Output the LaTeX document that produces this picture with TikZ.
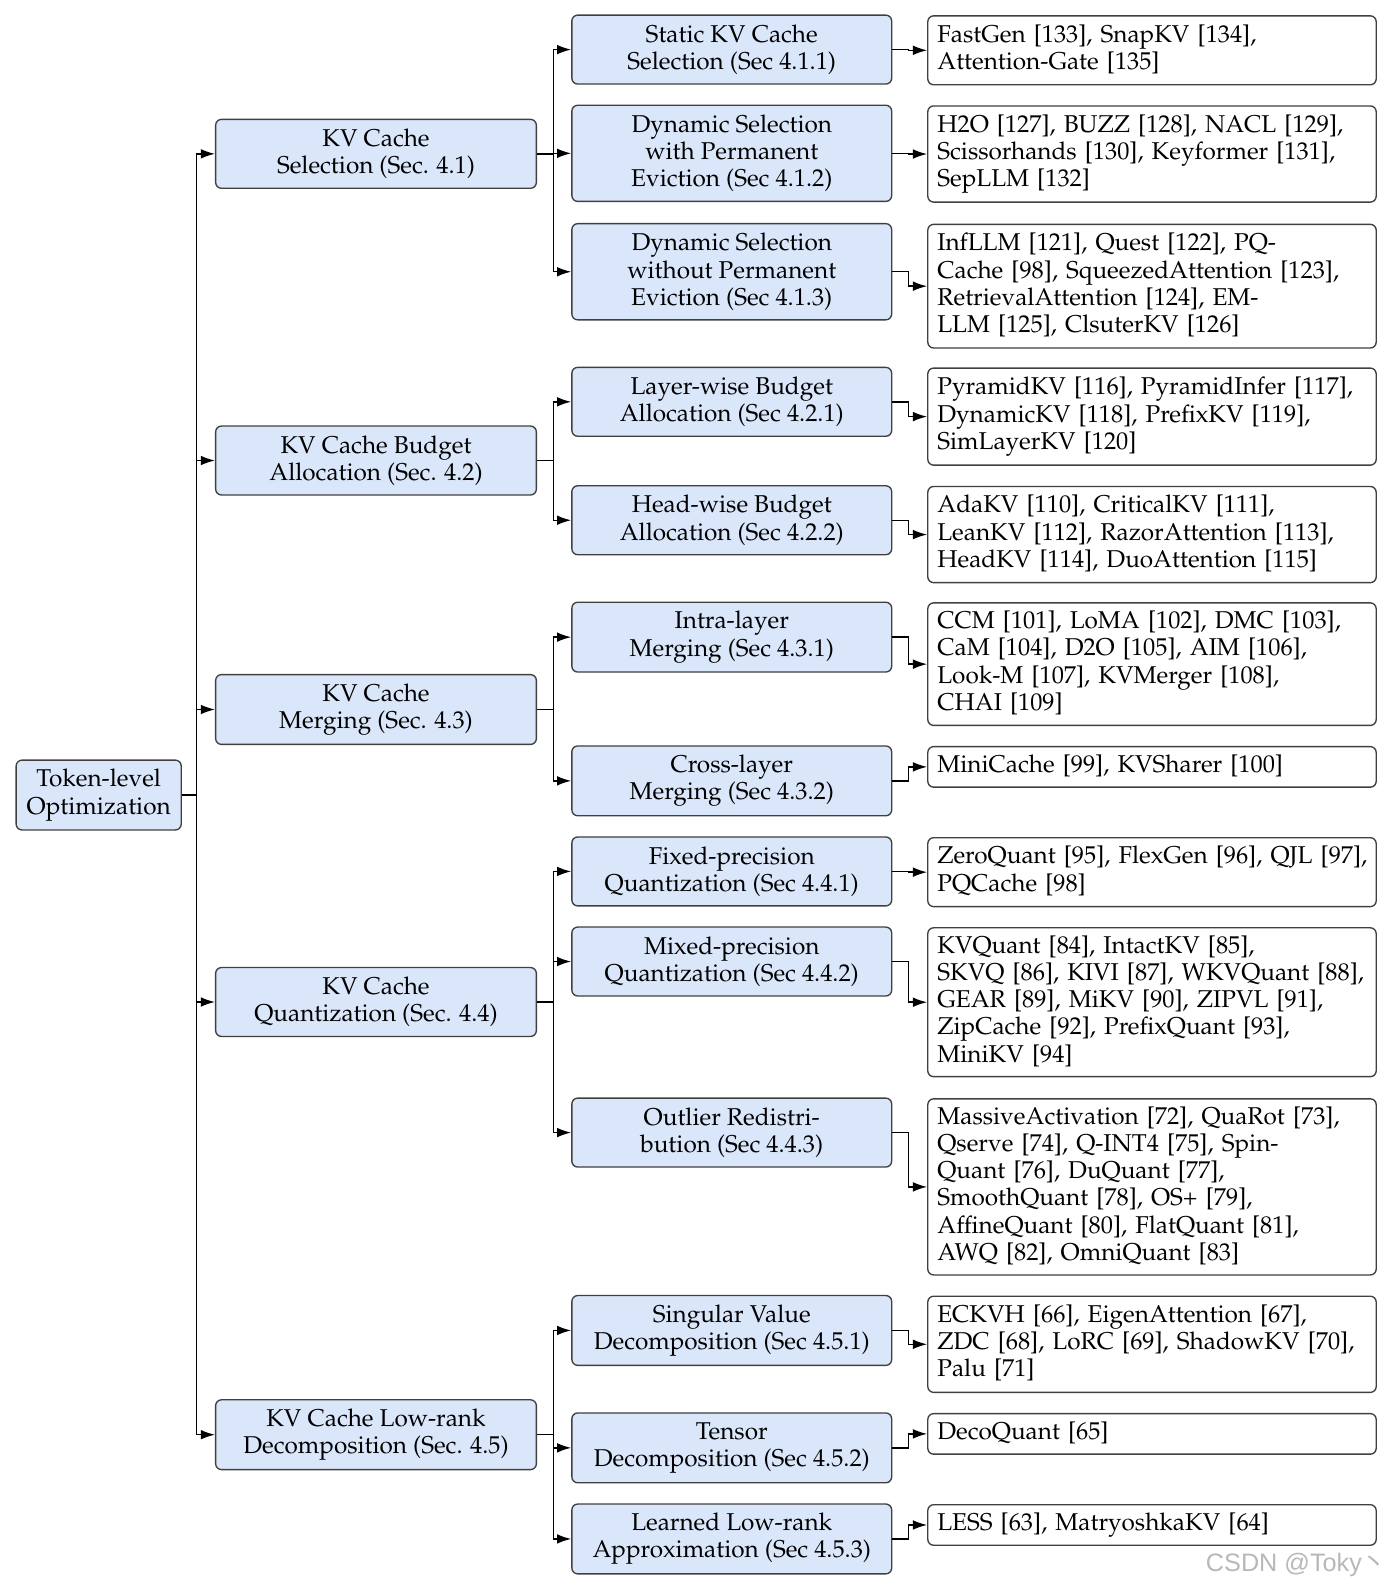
\documentclass[tikz,border=0pt]{standalone}
\usepackage[T1]{fontenc}
\usepackage{mathpazo}
\usepackage{fontspec}
\usepackage{tikz}
\usetikzlibrary{arrows,arrows.meta,positioning}
\newfontfamily\wmfont{Liberation Sans}
\newfontfamily\cjk{Noto Sans CJK SC}
\definecolor{kvblue}{RGB}{218,230,250}

\begin{document}
\begin{tikzpicture}[x=0.4494pt,y=-0.4494pt,
  font=\fontencoding{T1}\fontfamily{ppl}\fontsize{10.8}{12.1}\selectfont,
  >={Latex[length=6.3pt,width=4.3pt]},
  tokbox/.style={rectangle,rounded corners=2.6pt,draw=black!75,fill=kvblue,line width=0.6pt,align=center,inner sep=2pt},
  secbox/.style={tokbox,minimum width=142.4pt,minimum height=30.6pt},
  subbox/.style={tokbox,minimum width=142pt,minimum height=30.6pt},
  refbox/.style={rectangle,rounded corners=2.6pt,draw=black!75,fill=white,line width=0.6pt,align=left,anchor=north west,text width=190.6pt,inner xsep=4.25pt,inner ysep=2pt},
  link/.style={->,line width=0.65pt}]
\useasboundingbox (0,0) rectangle (1369.4,1567);

% root
\node[tokbox,minimum width=73.3pt,minimum height=31pt] (tl) at (97.5,785.5){Token-level\\Optimization};
\coordinate (rj) at (194,785.5);

% sections
\node[secbox] (sel) at (371.5,152){KV Cache\\Selection (Sec. 4.1)};
\node[secbox] (bud) at (371.5,455){KV Cache Budget\\Allocation (Sec. 4.2)};
\node[secbox,minimum height=31pt] (mer) at (371.5,701){KV Cache\\Merging (Sec. 4.3)};
\node[secbox] (qua) at (371.5,990){KV Cache\\Quantization (Sec. 4.4)};
\node[secbox,minimum height=31pt] (low) at (371.5,1417.5){KV Cache Low-rank\\Decomposition (Sec. 4.5)};
    \draw[link] (tl.east) -- (rj) |- (sel.west);
    \draw[link] (tl.east) -- (rj) |- (bud.west);
    \draw[link] (tl.east) -- (rj) |- (mer.west);
    \draw[link] (tl.east) -- (rj) |- (qua.west);
    \draw[link] (tl.east) -- (rj) |- (low.west);

% subsections
\node[subbox] (s1) at (723,49){Static KV Cache\\Selection (Sec 4.1.1)};
\node[subbox,minimum height=42.7pt] (s2) at (723,151.5){Dynamic Selection\\with Permanent\\Eviction (Sec 4.1.2)};
\node[subbox,minimum height=42.7pt] (s3) at (723,268.5){Dynamic Selection\\without Permanent\\Eviction (Sec 4.1.3)};
    \draw[link] (sel.east) -- ++(16,0) |- (s1.west);
    \draw[link] (sel.east) -- ++(16,0) |- (s2.west);
    \draw[link] (sel.east) -- ++(16,0) |- (s3.west);
\node[subbox] (b1) at (723,397){Layer-wise Budget\\Allocation (Sec 4.2.1)};
\node[subbox] (b2) at (723,514){Head-wise Budget\\Allocation (Sec 4.2.2)};
    \draw[link] (bud.east) -- ++(16,0) |- (b1.west);
    \draw[link] (bud.east) -- ++(16,0) |- (b2.west);
\node[subbox,minimum height=31pt] (m1) at (723,629.5){Intra-layer\\Merging (Sec 4.3.1)};
\node[subbox,minimum height=31pt] (m2) at (723,771.5){Cross-layer\\Merging (Sec 4.3.2)};
    \draw[link] (mer.east) -- ++(16,0) |- (m1.west);
    \draw[link] (mer.east) -- ++(16,0) |- (m2.west);
\node[subbox] (q1) at (723,861){Fixed-precision\\Quantization (Sec 4.4.1)};
\node[subbox] (q2) at (723,950){Mixed-precision\\Quantization (Sec 4.4.2)};
\node[subbox] (q3) at (723,1119){Outlier Redistri-\\bution (Sec 4.4.3)};
    \draw[link] (qua.east) -- ++(16,0) |- (q1.west);
    \draw[link] (qua.east) -- ++(16,0) |- (q2.west);
    \draw[link] (qua.east) -- ++(16,0) |- (q3.west);
\node[subbox,minimum height=31pt] (d1) at (723,1314.5){Singular Value\\Decomposition (Sec 4.5.1)};
\node[subbox,minimum height=31pt] (d2) at (723,1430.5){Tensor\\Decomposition (Sec 4.5.2)};
\node[subbox,minimum height=31pt] (d3) at (723,1520.5){Learned Low-rank\\Approximation (Sec 4.5.3)};
    \draw[link] (low.east) -- ++(16,0) |- (d1.west);
    \draw[link] (low.east) -- ++(16,0) |- (d2.west);
    \draw[link] (low.east) -- ++(16,0) |- (d3.west);

% works
\node[refbox,minimum height=30.6pt] (f1) at (916,15){\begin{tabular}{@{}l@{}}FastGen [133], SnapKV [134],\\Attention-Gate [135]\end{tabular}};
\node[refbox,minimum height=42.7pt] (f2) at (916,104){\begin{tabular}{@{}l@{}}H2O [127], BUZZ [128], NACL [129],\\Scissorhands [130], Keyformer [131],\\SepLLM [132]\end{tabular}};
\node[refbox,minimum height=54.9pt] (f3) at (916,221){\begin{tabular}{@{}l@{}}InfLLM [121], Quest [122], PQ-\\Cache [98], SqueezedAttention [123],\\RetrievalAttention [124], EM-\\LLM [125], ClsuterKV [126]\end{tabular}};
\node[refbox,minimum height=43.1pt] (f4) at (916,363){\begin{tabular}{@{}l@{}}PyramidKV [116], PyramidInfer [117],\\DynamicKV [118], PrefixKV [119],\\SimLayerKV [120]\end{tabular}};
\node[refbox,minimum height=42.7pt] (f5) at (916,480){\begin{tabular}{@{}l@{}}AdaKV [110], CriticalKV [111],\\LeanKV [112], RazorAttention [113],\\HeadKV [114], DuoAttention [115]\end{tabular}};
\node[refbox,minimum height=54.4pt] (f6) at (916,595){\begin{tabular}{@{}l@{}}CCM [101], LoMA [102], DMC [103],\\CaM [104], D2O [105], AIM [106],\\Look-M [107], KVMerger [108],\\CHAI [109]\end{tabular}};
\node[refbox,minimum height=18pt] (f7) at (916,737){\begin{tabular}{@{}l@{}}MiniCache [99], KVSharer [100]\end{tabular}};
\node[refbox,minimum height=30.6pt] (f8) at (916,827){\begin{tabular}{@{}l@{}}ZeroQuant [95], FlexGen [96], QJL [97],\\PQCache [98]\end{tabular}};
\node[refbox,minimum height=66.1pt] (f9) at (916,916){\begin{tabular}{@{}l@{}}KVQuant [84], IntactKV [85],\\SKVQ [86], KIVI [87], WKVQuant [88],\\GEAR [89], MiKV [90], ZIPVL [91],\\ZipCache [92], PrefixQuant [93],\\MiniKV [94]\end{tabular}};
\node[refbox,minimum height=78.2pt] (f10) at (916,1085){\begin{tabular}{@{}l@{}}MassiveActivation [72], QuaRot [73],\\Qserve [74], Q-INT4 [75], Spin-\\Quant [76], DuQuant [77],\\SmoothQuant [78], OS+ [79],\\AffineQuant [80], FlatQuant [81],\\AWQ [82], OmniQuant [83]\end{tabular}};
\node[refbox,minimum height=42.7pt] (f11) at (916,1280){\begin{tabular}{@{}l@{}}ECKVH [66], EigenAttention [67],\\ZDC [68], LoRC [69], ShadowKV [70],\\Palu [71]\end{tabular}};
\node[refbox,minimum height=18pt] (f12) at (916,1396){\begin{tabular}{@{}l@{}}DecoQuant [65]\end{tabular}};
\node[refbox,minimum height=18pt] (f13) at (916,1486){\begin{tabular}{@{}l@{}}LESS [63], MatryoshkaKV [64]\end{tabular}};
    \draw[link] (s1.east) -- ++(16,0) |- (f1.west);
    \draw[link] (s2.east) -- ++(16,0) |- (f2.west);
    \draw[link] (s3.east) -- ++(16,0) |- (f3.west);
    \draw[link] (b1.east) -- ++(16,0) |- (f4.west);
    \draw[link] (b2.east) -- ++(16,0) |- (f5.west);
    \draw[link] (m1.east) -- ++(16,0) |- (f6.west);
    \draw[link] (m2.east) -- ++(16,0) |- (f7.west);
    \draw[link] (q1.east) -- ++(16,0) |- (f8.west);
    \draw[link] (q2.east) -- ++(16,0) |- (f9.west);
    \draw[link] (q3.east) -- ++(16,0) |- (f10.west);
    \draw[link] (d1.east) -- ++(16,0) |- (f11.west);
    \draw[link] (d2.east) -- ++(16,0) |- (f12.west);
    \draw[link] (d3.east) -- ++(16,0) |- (f13.west);

% watermark
\node[font=\wmfont\fontsize{11.2}{12}\selectfont,text=black!28,inner sep=0pt] (wm) at (1281,1546){CSDN @Toky{\cjk 丶}};
\end{tikzpicture}
\end{document}
